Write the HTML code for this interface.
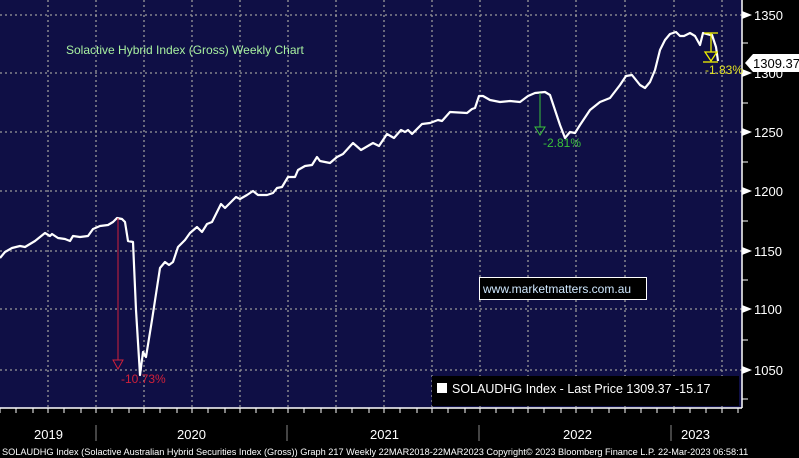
<!DOCTYPE html>
<html><head><meta charset="utf-8"><style>
body{margin:0;background:#000;}
svg{display:block;font-family:"Liberation Sans",sans-serif;}
</style></head><body>
<svg width="799" height="458" viewBox="0 0 799 458" xmlns="http://www.w3.org/2000/svg">
<rect x="0" y="0" width="799" height="458" fill="#000"/>
<rect x="0" y="0" width="742" height="408" fill="#0f0f45"/>
<g stroke="#9a9a9a" stroke-width="1.3" stroke-dasharray="2,3">
<line x1="0" y1="15" x2="742" y2="15"/><line x1="0" y1="73" x2="742" y2="73"/><line x1="0" y1="132" x2="742" y2="132"/><line x1="0" y1="191" x2="742" y2="191"/><line x1="0" y1="251" x2="742" y2="251"/><line x1="0" y1="309" x2="742" y2="309"/><line x1="0" y1="370" x2="742" y2="370"/>
<line x1="48" y1="0" x2="48" y2="408"/><line x1="96" y1="0" x2="96" y2="408"/><line x1="144" y1="0" x2="144" y2="408"/><line x1="192" y1="0" x2="192" y2="408"/><line x1="240" y1="0" x2="240" y2="408"/><line x1="288" y1="0" x2="288" y2="408"/><line x1="336" y1="0" x2="336" y2="408"/><line x1="384" y1="0" x2="384" y2="408"/><line x1="432" y1="0" x2="432" y2="408"/><line x1="480" y1="0" x2="480" y2="408"/><line x1="528" y1="0" x2="528" y2="408"/><line x1="576" y1="0" x2="576" y2="408"/><line x1="625" y1="0" x2="625" y2="408"/><line x1="674" y1="0" x2="674" y2="408"/><line x1="722" y1="0" x2="722" y2="408"/>
</g>
<line x1="742" y1="0" x2="742" y2="408" stroke="#fff" stroke-width="1.5"/>
<line x1="0" y1="408" x2="742" y2="408" stroke="#fff" stroke-width="1.5"/>
<g stroke="#fff" stroke-width="1">
<line x1="742" y1="43" x2="748" y2="43"/><line x1="742" y1="103" x2="748" y2="103"/><line x1="742" y1="162" x2="748" y2="162"/><line x1="742" y1="221" x2="748" y2="221"/><line x1="742" y1="280" x2="748" y2="280"/><line x1="742" y1="340" x2="748" y2="340"/><line x1="742" y1="399" x2="748" y2="399"/>
</g>
<g fill="#fff"><polygon points="742,11 752,15 742,19"/><polygon points="742,69 752,73 742,77"/><polygon points="742,128 752,132 742,136"/><polygon points="742,187 752,191 742,195"/><polygon points="742,247 752,251 742,255"/><polygon points="742,305 752,309 742,313"/><polygon points="742,366 752,370 742,374"/></g>
<g fill="#fff" font-size="13">
<text x="754" y="20">1350</text><text x="754" y="78">1300</text><text x="754" y="137">1250</text><text x="754" y="196">1200</text><text x="754" y="256">1150</text><text x="754" y="314">1100</text><text x="754" y="375">1050</text>
</g>
<g stroke="#fff" stroke-width="1">
<path d="M0 408v5M16 408v5M33 408v5M48 408v5M64 408v5M81 408v5M96 408v5M112 408v5M129 408v5M144 408v5M160 408v5M177 408v5M192 408v5M208 408v5M225 408v5M240 408v5M256 408v5M273 408v5M288 408v5M304 408v5M321 408v5M336 408v5M352 408v5M369 408v5M384 408v5M400 408v5M417 408v5M432 408v5M448 408v5M465 408v5M480 408v5M496 408v5M513 408v5M528 408v5M544 408v5M561 408v5M576 408v5M592 408v5M609 408v5M625 408v5M641 408v5M657 408v5M674 408v5M690 408v5M706 408v5M722 408v5M738 408v5"/>
</g>
<g stroke="#888" stroke-width="1"><line x1="96" y1="425" x2="96" y2="441"/><line x1="287" y1="425" x2="287" y2="441"/><line x1="479" y1="425" x2="479" y2="441"/><line x1="671" y1="425" x2="671" y2="441"/></g>
<g fill="#fff" font-size="13"><text x="34" y="439">2019</text><text x="177" y="439">2020</text><text x="370" y="439">2021</text><text x="563" y="439">2022</text><text x="681" y="439">2023</text></g>
<text x="2" y="455" fill="#fff" font-size="9.2">SOLAUDHG Index (Solactive Australian Hybrid Securities Index (Gross)) Graph 217  Weekly 22MAR2018-22MAR2023 Copyright© 2023 Bloomberg Finance L.P.     22-Mar-2023 06:58:11</text>
<text x="66" y="54" fill="#a8f0a0" font-size="12">Solactive Hybrid Index (Gross) Weekly Chart</text>
<polyline fill="none" stroke="#fff" stroke-width="2.2" stroke-linejoin="round" points="0,258 5,252 12,248 20,246 25,247 30,244 35,241 40,237 45,233 50,236 52,234 58,238 65,239 70,241 73,236 80,237 88,236 93,229 100,226 108,225 113,222 117,218 122,219 125,222 128,241 133,242 136,310 140,375 143,352 146,357 152,320 160,268 165,262 169,265 173,262 178,247 185,240 190,233 197,227 202,232 207,224 212,222 221,204 225,208 236,197 240,199 247,195 253,191 258,195 267,195 273,193 277,188 282,187 288,177 295,177 298,170 305,166 312,165 317,157 320,161 330,163 337,157 343,154 353,143 361,150 373,143 379,146 387,134 394,138 401,130 405,132 408,130 412,134 422,124 430,123 438,120 442,121 450,112 467,113 472,109 475,108 479,96 483,96 490,100 500,102 510,101 520,102 528,96 535,93 545,92 550,95 555,110 560,125 565,138 570,132 575,133 580,125 590,110 600,102 610,98 620,85 626,76 632,75 640,85 645,88 650,82 655,70 660,50 665,40 670,34 676,32 680,36 684,36 690,33 695,36 700,45 703,33 710,35 712,35 716,47 718,61"/>
<g stroke="#d0203a" fill="none" stroke-width="1"><line x1="118" y1="218" x2="118" y2="360"/><polygon points="113,360 123,360 118,369"/></g>
<text x="121" y="383" fill="#d0203a" font-size="12">-10.73%</text>
<g stroke="#3ac03a" fill="none" stroke-width="1"><line x1="540" y1="93" x2="540" y2="127"/><polygon points="535,127 545,127 540,135"/></g>
<text x="543" y="147" fill="#3ac03a" font-size="12">-2.81%</text>
<g stroke="#f0f000" fill="none" stroke-width="1.3"><line x1="704" y1="33" x2="718" y2="33"/><line x1="711" y1="33" x2="711" y2="52"/><polygon points="705,52 717,52 711,61"/><line x1="703" y1="62" x2="718" y2="62"/></g>
<text x="705" y="74" fill="#e0e020" font-size="12">-1.83%</text>
<polygon points="745,63 753,54 799,54 799,72 753,72" fill="#fff"/>
<text x="753" y="68" fill="#000" font-size="13">1309.37</text>
<rect x="479.5" y="277.5" width="167" height="22" fill="#000" stroke="#fff"/>
<text x="483" y="293" fill="#cfe8ff" font-size="12">www.marketmatters.com.au</text>
<rect x="432" y="376" width="307" height="30" fill="#000"/>
<rect x="437" y="383" width="10" height="10" fill="#fff"/>
<text x="452" y="393" fill="#fff" font-size="12.5">SOLAUDHG Index - Last Price 1309.37  -15.17</text>
</svg>
</body></html>
